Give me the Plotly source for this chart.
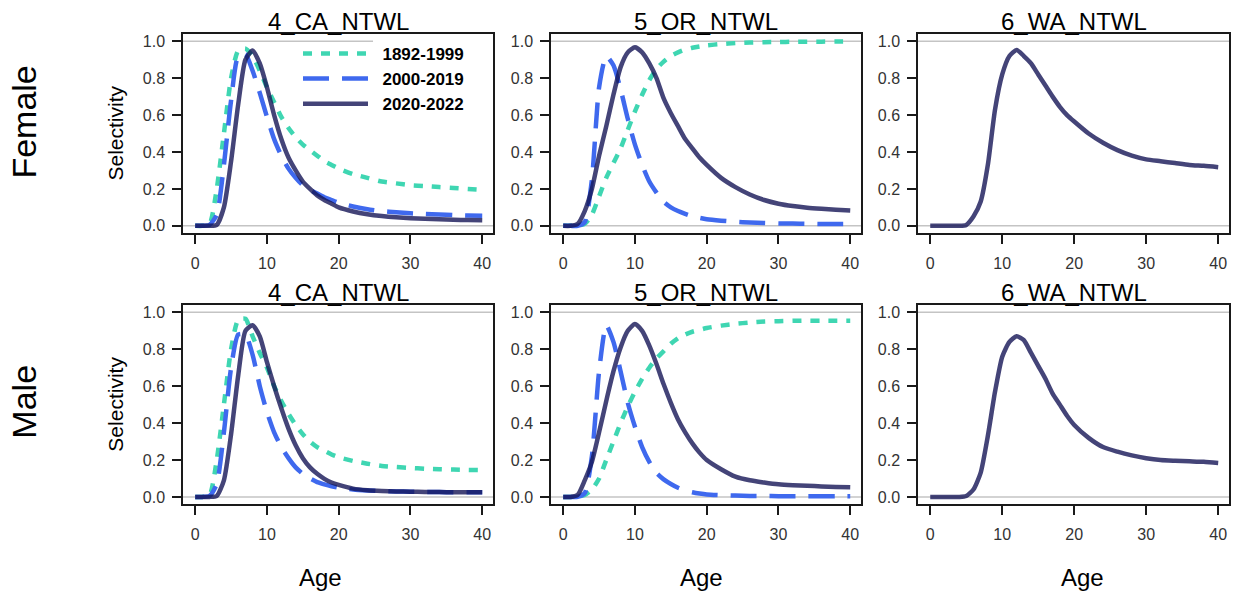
import plotly.graph_objects as go
from plotly.subplots import make_subplots

# ages (every year to 20, then every 2 years)
ages = list(range(0, 21)) + list(range(22, 41, 2))

# Female selectivity
f_ca_1892 = [0, 0, 0.01, 0.2, 0.5, 0.8, 0.95, 0.96, 0.92, 0.84, 0.75, 0.67, 0.59, 0.53, 0.48, 0.44,
             0.41, 0.38, 0.35, 0.33, 0.31, 0.28, 0.26, 0.24, 0.23, 0.22, 0.215, 0.21, 0.205, 0.2, 0.195]
f_ca_2000 = [0, 0, 0.005, 0.06, 0.33, 0.68, 0.92, 0.93, 0.84, 0.72, 0.59, 0.47, 0.38, 0.31, 0.26, 0.22,
             0.195, 0.175, 0.155, 0.14, 0.125, 0.105, 0.09, 0.08, 0.073, 0.068, 0.064, 0.061, 0.058, 0.056, 0.055]
f_ca_2020 = [0, 0, 0, 0.005, 0.1, 0.35, 0.66, 0.9, 0.95, 0.88, 0.75, 0.6, 0.47, 0.37, 0.3, 0.24,
             0.2, 0.165, 0.14, 0.12, 0.1, 0.078, 0.063, 0.053, 0.046, 0.041, 0.038, 0.035, 0.033, 0.031, 0.03]
f_or_1892 = [0, 0, 0, 0.01, 0.06, 0.16, 0.26, 0.34, 0.42, 0.52, 0.62, 0.71, 0.79, 0.85, 0.89, 0.92,
             0.94, 0.955, 0.965, 0.972, 0.978, 0.985, 0.99, 0.993, 0.995, 0.996, 0.997, 0.998, 0.998, 0.999, 0.999]
f_or_2000 = [0, 0, 0, 0.02, 0.25, 0.75, 0.92, 0.87, 0.74, 0.58, 0.44, 0.33, 0.24, 0.18, 0.13, 0.1,
             0.08, 0.065, 0.052, 0.043, 0.036, 0.028, 0.022, 0.018, 0.015, 0.013, 0.012, 0.011, 0.01, 0.01, 0.01]
f_or_2020 = [0, 0, 0.01, 0.08, 0.2, 0.38, 0.54, 0.71, 0.86, 0.94, 0.967, 0.94, 0.88, 0.8, 0.69, 0.61,
             0.54, 0.47, 0.42, 0.37, 0.33, 0.26, 0.21, 0.17, 0.14, 0.12, 0.107, 0.098, 0.092, 0.087, 0.083]
f_wa_2020 = [0, 0, 0, 0, 0, 0.005, 0.05, 0.13, 0.33, 0.63, 0.82, 0.92, 0.953, 0.92, 0.88, 0.82,
             0.76, 0.7, 0.645, 0.6, 0.565, 0.5, 0.45, 0.41, 0.38, 0.36, 0.35, 0.34, 0.33, 0.325, 0.318]

# Male selectivity
m_ca_1892 = [0, 0, 0.01, 0.2, 0.5, 0.8, 0.96, 0.965, 0.87, 0.78, 0.7, 0.6, 0.52, 0.45, 0.39, 0.34,
             0.3, 0.27, 0.25, 0.23, 0.215, 0.195, 0.18, 0.168, 0.162, 0.157, 0.153, 0.15, 0.148, 0.146, 0.145]
m_ca_2000 = [0, 0, 0.005, 0.07, 0.35, 0.7, 0.88, 0.88, 0.77, 0.6, 0.46, 0.35, 0.27, 0.21, 0.16, 0.125,
             0.1, 0.08, 0.068, 0.058, 0.05, 0.04, 0.035, 0.032, 0.03, 0.028, 0.027, 0.026, 0.025, 0.025, 0.025]
m_ca_2020 = [0, 0, 0, 0.005, 0.09, 0.34, 0.66, 0.9, 0.93, 0.87, 0.73, 0.6, 0.48, 0.37, 0.28, 0.21,
             0.16, 0.125, 0.098, 0.078, 0.065, 0.045, 0.036, 0.032, 0.03, 0.028, 0.027, 0.026, 0.025, 0.025, 0.025]
m_or_1892 = [0, 0, 0, 0.01, 0.04, 0.1, 0.2, 0.3, 0.4, 0.49, 0.57, 0.64, 0.7, 0.75, 0.79, 0.83,
             0.86, 0.88, 0.895, 0.905, 0.915, 0.928, 0.938, 0.945, 0.95, 0.952, 0.954, 0.955, 0.955, 0.955, 0.955]
m_or_2000 = [0, 0, 0, 0.02, 0.22, 0.68, 0.93, 0.84, 0.68, 0.51, 0.38, 0.27, 0.19, 0.13, 0.095, 0.07,
             0.05, 0.035, 0.025, 0.018, 0.013, 0.009, 0.007, 0.005, 0.005, 0.004, 0.004, 0.004, 0.004, 0.004, 0.004]
m_or_2020 = [0, 0, 0.01, 0.09, 0.19, 0.35, 0.52, 0.68, 0.81, 0.9, 0.937, 0.9, 0.82, 0.72, 0.61, 0.51,
             0.42, 0.35, 0.29, 0.24, 0.2, 0.15, 0.11, 0.09, 0.078, 0.068, 0.063, 0.06, 0.057, 0.054, 0.052]
m_wa_2020 = [0, 0, 0, 0, 0, 0.005, 0.04, 0.13, 0.33, 0.57, 0.76, 0.84, 0.87, 0.85, 0.78, 0.71,
             0.64, 0.56, 0.5, 0.44, 0.39, 0.32, 0.27, 0.245, 0.225, 0.21, 0.2, 0.196, 0.193, 0.19, 0.184]

periods = ["1892-1999", "2000-2019", "2020-2022"]
fleets = ["4_CA_NTWL", "5_OR_NTWL", "6_WA_NTWL"]
sexes = ["Female", "Male"]
x_ticks = [0, 10, 20, 30, 40]
y_ticks = [0.0, 0.2, 0.4, 0.6, 0.8, 1.0]

panels = {
    (1, 1): [("1892-1999", f_ca_1892), ("2000-2019", f_ca_2000), ("2020-2022", f_ca_2020)],
    (1, 2): [("1892-1999", f_or_1892), ("2000-2019", f_or_2000), ("2020-2022", f_or_2020)],
    (1, 3): [("2020-2022", f_wa_2020)],
    (2, 1): [("1892-1999", m_ca_1892), ("2000-2019", m_ca_2000), ("2020-2022", m_ca_2020)],
    (2, 2): [("1892-1999", m_or_1892), ("2000-2019", m_or_2000), ("2020-2022", m_or_2020)],
    (2, 3): [("2020-2022", m_wa_2020)],
}

styles = {
    "1892-1999": dict(color="#3FD6B2", width=4.5, dash="9px,9px"),
    "2000-2019": dict(color="#3F69EE", width=4.5, dash="26px,13px"),
    "2020-2022": dict(color="rgba(21,21,86,0.8)", width=4.5),
}

W, H = 1233, 593
col_px = [(183, 493), (551, 861), (918, 1229)]
row_px = [(33, 233), (305, 505)]
FONT = "Liberation Sans, Arial, sans-serif"

fig = make_subplots(rows=2, cols=3)

for (r, c), series in panels.items():
    for period, vals in series:
        # nbsp pads the gap between legend swatch and label
        fig.add_trace(go.Scatter(x=ages, y=vals, mode="lines", name="\u00a0\u00a0" + period,
                                 line=dict(styles[period], shape="spline", smoothing=0.6),
                                 showlegend=(r == 1 and c == 1)),
                      row=r, col=c)

fig.update_xaxes(range=[-1.7, 41.5], tickvals=x_ticks, showgrid=False, zeroline=False,
                 showline=True, mirror=True, linecolor="#1a1a1a", linewidth=1.5,
                 ticks="outside", ticklen=9, tickwidth=1.5, tickcolor="#1a1a1a",
                 ticklabelstandoff=6,
                 tickfont=dict(family=FONT, size=16, color="#333333"))
fig.update_yaxes(range=[-0.04, 1.04], tickvals=y_ticks, tickformat=".1f", showgrid=False,
                 zeroline=False, showline=True, mirror=True, linecolor="#1a1a1a", linewidth=1.5,
                 ticks="outside", ticklen=9, tickwidth=1.5, tickcolor="#1a1a1a",
                 ticklabelstandoff=4,
                 tickfont=dict(family=FONT, size=16, color="#333333"))

annotations = []
shapes = []
for r in (1, 2):
    top, bot = row_px[r - 1]
    for c in (1, 2, 3):
        n = (r - 1) * 3 + c
        left, right = col_px[c - 1]
        fig.layout[f"xaxis{n}"].domain = [left / W, right / W]
        fig.layout[f"yaxis{n}"].domain = [1 - bot / H, 1 - top / H]
        suffix = "" if n == 1 else str(n)
        # grey reference lines at 0 and 1
        for yv in (0, 1):
            x_end = 0.613 if (n == 1 and yv == 1) else 1
            shapes.append(dict(type="line", xref=f"x{suffix} domain", yref=f"y{suffix}",
                               x0=0, x1=x_end, y0=yv, y1=yv, layer="below",
                               line=dict(color="#c4c4c4", width=1.5)))
        annotations.append(dict(text=fleets[c - 1], xref="paper", yref="paper",
                                x=(left + right) / 2 / W, y=1 - top / H, yshift=12,
                                xanchor="center", yanchor="middle", showarrow=False,
                                font=dict(family=FONT, size=24, color="black")))
    annotations.append(dict(text="Selectivity", xref="paper", yref="paper",
                            x=116 / W, y=1 - (top + bot) / 2 / H, textangle=-90,
                            xanchor="center", yanchor="middle", showarrow=False,
                            font=dict(family=FONT, size=21, color="black")))

for label, yc in zip(sexes, (122, 402)):
    annotations.append(dict(text=label, xref="paper", yref="paper", x=24 / W, y=1 - yc / H,
                            textangle=-90, xanchor="center", yanchor="middle", showarrow=False,
                            font=dict(family=FONT, size=34, color="black")))

for xc in (320, 701, 1082):
    annotations.append(dict(text="Age", xref="paper", yref="paper", x=xc / W, y=1 - 578 / H,
                            xanchor="center", yanchor="middle", showarrow=False,
                            font=dict(family=FONT, size=24, color="black")))

fig.update_layout(
    width=W, height=H,
    margin=dict(l=0, r=0, t=0, b=0),
    paper_bgcolor="white", plot_bgcolor="white",
    shapes=shapes, annotations=annotations,
    legend=dict(x=298 / W, y=1 - 35 / H, xanchor="left", yanchor="top",
                bgcolor="rgba(0,0,0,0)", itemwidth=65,
                font=dict(family=FONT, size=17, color="black", weight="bold")),
)

fig.write_html("out.html", config={"displayModeBar": False},
               post_script="document.body.style.margin='0';document.body.style.overflow='hidden';")
